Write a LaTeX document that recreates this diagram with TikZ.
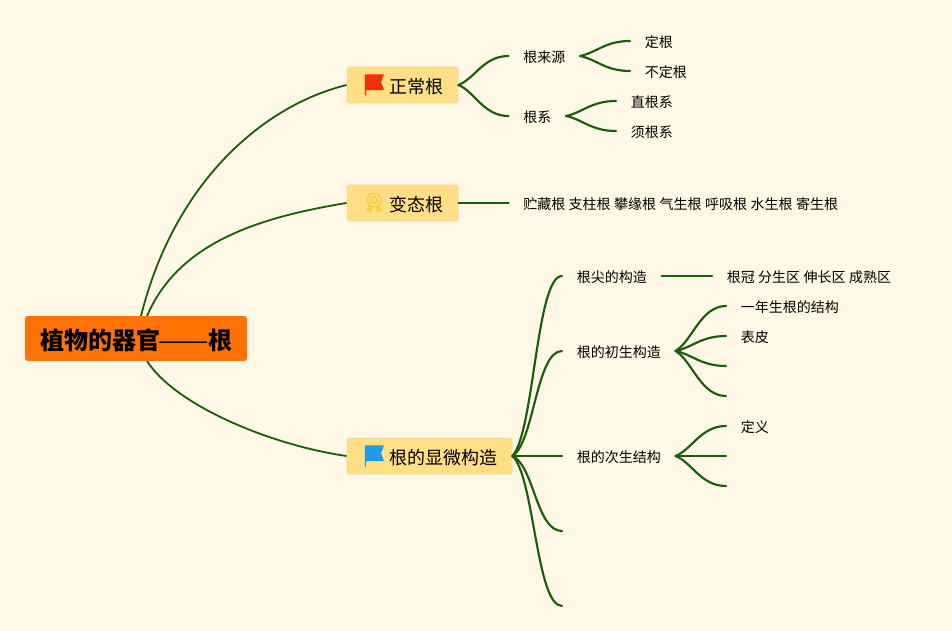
\documentclass[tikz,border=0pt]{standalone}
\usepackage{fontspec}
\usepackage{graphicx}
\setmainfont{Noto Sans CJK SC}
\usetikzlibrary{calc}
\definecolor{bgc}{HTML}{FFF8E6}
\definecolor{rootc}{HTML}{FF7205}
\definecolor{branchc}{HTML}{FEDF85}
\definecolor{edgec}{HTML}{EADA9F}
\definecolor{linec}{HTML}{1B5C08}
\definecolor{redf}{HTML}{F42C10}
\definecolor{bluef}{HTML}{1E9BE2}
\definecolor{medal}{HTML}{FCCF3C}
\newcommand{\wordgap}{\spaceskip 2.6pt\relax}
\tikzset{
  x=.75pt,y=-.75pt,
  rootbox/.style={draw=none,fill=rootc,rounded corners=2pt,minimum width=166.5pt,minimum height=33.75pt,inner sep=0pt,text height=16pt,text depth=0pt,font=\fontsize{18}{20}\selectfont\bfseries,text=black},
  branchbox/.style={draw=edgec,line width=.6pt,fill=branchc,rounded corners=2pt,minimum height=27pt,inner sep=0pt,text height=12.4pt,text depth=0pt,font=\fontsize{13.5}{15}\selectfont,text=black},
  leaf/.style={anchor=west,inner xsep=10.875pt,inner ysep=1pt,text height=9.5pt,text depth=0pt,font=\fontsize{10.5}{12}\selectfont,text=black},
  link/.style={draw=linec,line width=1.6pt,line cap=round},
  rootlink/.style={draw=linec,line width=1.35pt},
}
\newcommand{\fanshape}[5]{%
  \path ($(#4)!#1!(#5)$) coordinate (fp) ($(#4)!#2!(#5)$) coordinate (fq) ($(#4)!#3!(#5)$) coordinate (fs);
  \draw[link] (#4) .. controls (fp |- fq) and (fs |- #5) .. (#5);}
\newcommand{\fan}[2]{\fanshape{.33}{.22}{.5}{#1}{#2}}
\newcommand{\fanlong}[2]{\fanshape{.44}{.13}{.48}{#1}{#2}}
\newcommand{\flagicon}[3]{\fill[#1] (#2-0.6,#3-10.7) -- (#2+18.5,#3-10.7) -- (#2+15.5,#3-2.8) -- (#2+18.5,#3+5.2) -- (#2+0.6,#3+5.2) -- (#2+0.6,#3+10.5) -- (#2-0.6,#3+10.5) -- cycle;}
\begin{document}
\begin{tikzpicture}
\useasboundingbox[fill=bgc] (0,0) rectangle (952,631);
% coordinates of connector ends at the root
\coordinate (r1) at (141,316);
\coordinate (r2) at (147,316);
\coordinate (r3) at (147,361);
% free ends
\coordinate (e1) at (726,366);
\coordinate (e2) at (726,396);
\coordinate (e3) at (726,456);
\coordinate (e4) at (726,486);
\coordinate (e5) at (562,531);
\coordinate (e6) at (562,606);
% nodes
\node[branchbox,minimum width=83.25pt] (b1) at (402.5,85) {\hspace*{21pt}正常根};
\node[branchbox,minimum width=83.25pt] (b2) at (402.5,203) {\hspace*{21pt}变态根};
\node[branchbox,minimum width=123.75pt] (b3) at (429.5,456) {\hspace*{21pt}根的显微构造};
\node[leaf] (a1) at (508.5,56) {根来源};
\node[leaf] (a2) at (508.5,116) {根系};
\node[leaf] (a11) at (630,41) {定根};
\node[leaf] (a12) at (630,71) {不定根};
\node[leaf] (a21) at (616,101) {直根系};
\node[leaf] (a22) at (616,131) {须根系};
\node[leaf] (t1) at (508.5,203) {\wordgap 贮藏根 支柱根 攀缘根 气生根 呼吸根 水生根 寄生根};
\node[leaf] (c1) at (562,276) {根尖的构造};
\node[leaf] (c2) at (562,351) {根的初生构造};
\node[leaf] (c3) at (562,456) {根的次生结构};
\node[leaf] (c11) at (712,276) {\wordgap 根冠 分生区 伸长区 成熟区};
\node[leaf] (c21) at (726,306) {一年生根的结构};
\node[leaf] (c22) at (726,336) {表皮};
\node[leaf] (c31) at (726,426) {定义};
% root connectors
\draw[rootlink] (r1) .. controls (175,180) and (265,105) .. (b1.west);
\draw[rootlink] (r2) .. controls (178,244) and (255,218) .. (b2.west);
\draw[rootlink] (r3) .. controls (175,405) and (270,445) .. (b3.west);
\node[rootbox] (root) at (136,338.5) {植物的器官\makebox[36pt]{\mdseries\scalebox{1.25}[1]{——}}根};
% branch connectors
\fan{b1.east}{a1.west}
\fan{b1.east}{a2.west}
\fan{a1.east}{a11.west}
\fan{a1.east}{a12.west}
\fan{a2.east}{a21.west}
\fan{a2.east}{a22.west}
\draw[link] (b2.east) -- (t1.west);
\fanlong{b3.east}{c1.west}
\fanlong{b3.east}{c2.west}
\draw[link] (b3.east) -- (c3.west);
\fanlong{b3.east}{e5}
\fanlong{b3.east}{e6}
\draw[link] (c1.east) -- (c11.west);
\fan{c2.east}{c21.west}
\fan{c2.east}{c22.west}
\fan{c2.east}{e1}
\fan{c2.east}{e2}
\fan{c3.east}{c31.west}
\draw[link] (c3.east) -- (e3);
\fan{c3.east}{e4}
% icons
\flagicon{redf}{365.5}{85}
\flagicon{bluef}{365.5}{456}
\draw[medal,line width=1.1pt] (374,200) circle[radius=6.8];
\draw[medal,line width=1.1pt] (374,200) circle[radius=3.2];
\fill[medal] (369,205) -- (372.5,208) -- (371,213) -- (368,211.5) -- (365.5,212) -- cycle;
\fill[medal] (379,205) -- (375.5,208) -- (377,213) -- (380,211.5) -- (382.5,212) -- cycle;
\end{tikzpicture}
\end{document}
